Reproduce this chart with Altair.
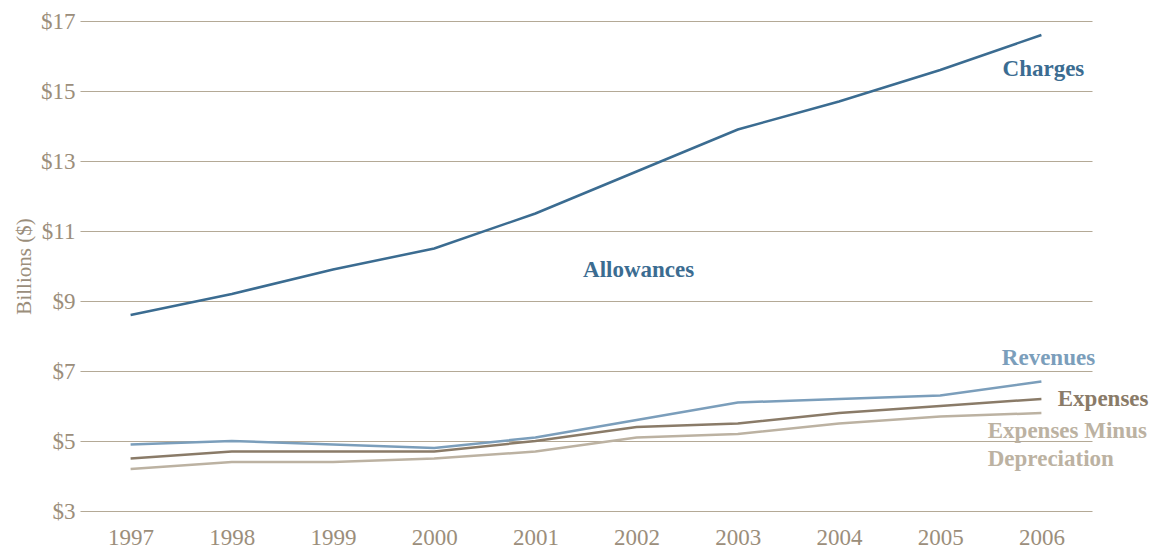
import altair as alt
import pandas as pd

years = [1997, 1998, 1999, 2000, 2001, 2002, 2003, 2004, 2005, 2006]
charges = [8.6, 9.2, 9.9, 10.5, 11.5, 12.7, 13.9, 14.7, 15.6, 16.6]
revenues = [4.9, 5.0, 4.9, 4.8, 5.1, 5.6, 6.1, 6.2, 6.3, 6.7]
expenses = [4.5, 4.7, 4.7, 4.7, 5.0, 5.4, 5.5, 5.8, 6.0, 6.2]
exp_minus_dep = [4.2, 4.4, 4.4, 4.5, 4.7, 5.1, 5.2, 5.5, 5.7, 5.8]

series_names = ["Charges", "Revenues", "Expenses", "Expenses Minus Depreciation"]
series_colors = ["#3b6c91", "#7b9ebb", "#8a7b68", "#bcb2a2"]

rows = []
for name, vals in zip(series_names, [charges, revenues, expenses, exp_minus_dep]):
    for y, v in zip(years, vals):
        rows.append({"year": y, "value": v, "series": name})
df = pd.DataFrame(rows)

label_text = ["Charges", "Allowances", "Revenues", "Expenses", "Expenses Minus", "Depreciation"]
label_x = [2006.02, 2002.02, 2006.07, 2006.61, 2005.47, 2005.47]
label_y = [15.63, 9.89, 7.37, 6.2, 5.29, 4.49]
label_color = ["#3b6c91", "#3b6c91", "#7b9ebb", "#8a7b68", "#bcb2a2", "#bcb2a2"]
label_align = ["center", "center", "center", "center", "left", "left"]
labels = pd.DataFrame({"text": label_text, "x": label_x, "y": label_y,
                       "color": label_color, "align": label_align})

FONT = "Liberation Serif"
TAUPE = "#9b8e7b"

xscale = alt.Scale(domain=[1996.5, 2006.5], nice=False, zero=False)
yscale = alt.Scale(domain=[3, 17], nice=False, zero=False)

lines = alt.Chart(df).mark_line(strokeWidth=2.5).encode(
    x=alt.X("year:Q", scale=xscale,
            axis=alt.Axis(values=years, format="d", title=None, grid=False,
                          domain=False, ticks=False, labelPadding=15,
                          labelFontSize=23, labelColor=TAUPE, labelFont=FONT)),
    y=alt.Y("value:Q", scale=yscale,
            axis=alt.Axis(values=[3, 5, 7, 9, 11, 13, 15, 17], format="$d",
                          title="Billions ($)", titleFontSize=21, titleFont=FONT,
                          titleColor=TAUPE, titleFontWeight="normal", titlePadding=6,
                          grid=True, gridColor="#b4a996", gridWidth=1.2, gridOpacity=1,
                          domain=False, ticks=False, labelPadding=5,
                          labelFontSize=23, labelColor=TAUPE, labelFont=FONT)),
    color=alt.Color("series:N", scale=alt.Scale(domain=series_names, range=series_colors),
                    legend=None),
    detail="series:N",
)

def text_layer(align):
    return alt.Chart(labels[labels["align"] == align]).mark_text(
        fontSize=23, fontWeight="bold", font=FONT, align=align, baseline="middle"
    ).encode(
        x=alt.X("x:Q", scale=xscale),
        y=alt.Y("y:Q", scale=yscale),
        text="text:N",
        color=alt.Color("color:N", scale=None),
    )

chart = alt.layer(lines, text_layer("center"), text_layer("left")).properties(
    width=1012, height=490,
    autosize=alt.AutoSizeParams(type="none"),
    padding={"left": 80, "top": 21, "right": 75, "bottom": 39},
).configure(background="white").configure_view(stroke=None)

chart.save("out.html", embed_options={"renderer": "svg", "actions": False})
